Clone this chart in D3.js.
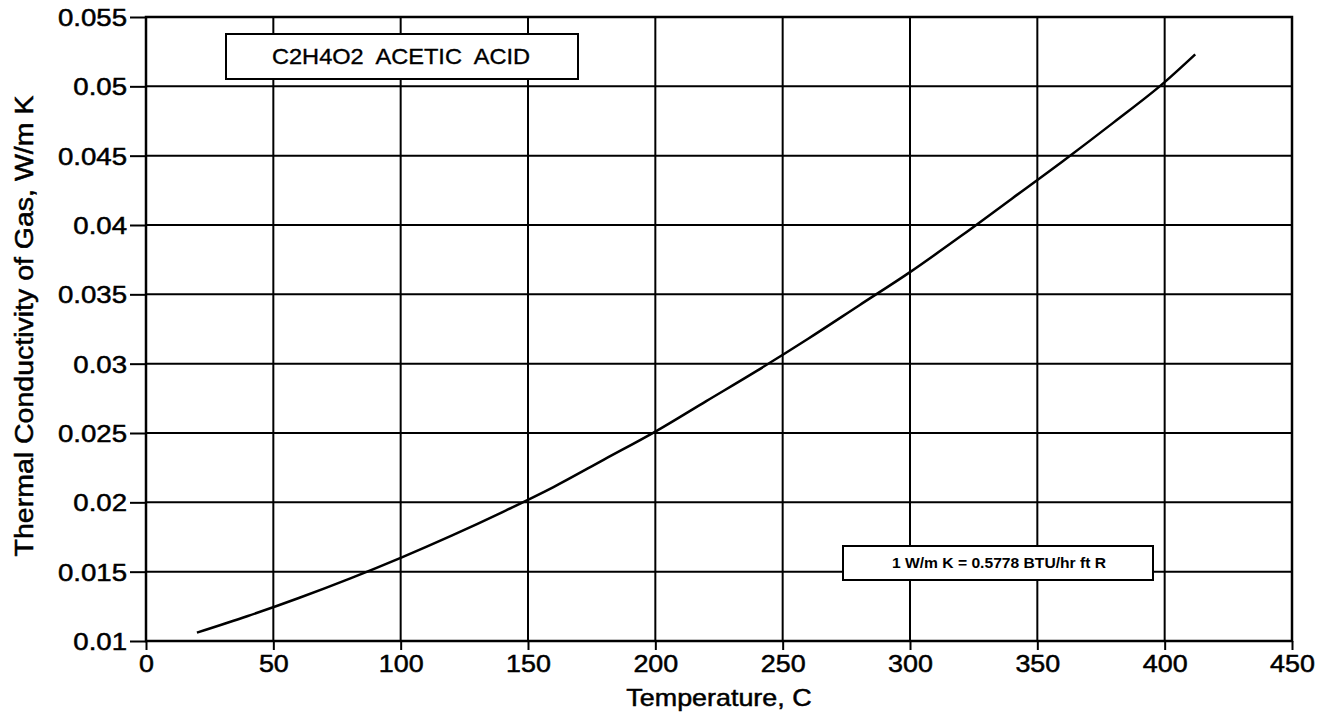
<!DOCTYPE html>
<html>
<head>
<meta charset="utf-8">
<script src="https://cdn.jsdelivr.net/npm/d3@7"></script>
<style>
  html, body { margin: 0; padding: 0; background: #fff; }
  svg { display: block; }
  text { font-family: "Liberation Sans", Arial, Helvetica, sans-serif; fill: #000; }
</style>
</head>
<body>
<svg id="chart" width="1335" height="718"></svg>
<script>
// Data
const temperatureC = [20, 40, 60, 80, 100, 120, 140, 160, 180, 200, 220, 240, 260, 280, 300, 320, 340, 360, 380, 400, 412];
const conductivity = [0.0106, 0.0118, 0.0131, 0.0145, 0.0160, 0.0176, 0.0193, 0.0211, 0.0231, 0.0251, 0.0273, 0.0295, 0.0318, 0.0342, 0.0366, 0.0392, 0.0419, 0.0446, 0.0474, 0.0503, 0.0523];
const xTicks = [0, 50, 100, 150, 200, 250, 300, 350, 400, 450];
const yTicks = [0.01, 0.015, 0.02, 0.025, 0.03, 0.035, 0.04, 0.045, 0.05, 0.055];
const yTickLabels = ["0.01", "0.015", "0.02", "0.025", "0.03", "0.035", "0.04", "0.045", "0.05", "0.055"];
const titleText = "C2H4O2  ACETIC  ACID";
const noteText = "1 W/m K = 0.5778 BTU/hr ft R";
const xLabel = "Temperature, C";
const yLabel = "Thermal Conductivity of Gas, W/m K";

const svg = d3.select("#chart");
const pLeft = 146, pRight = 1292, pTop = 17, pBottom = 641;
const FONT = "Liberation Sans, Arial, Helvetica, sans-serif";

// widen text horizontally (reference lettering is broader than Arial)
function stretch(sel, factor) {
  sel.each(function () {
    const w = this.getComputedTextLength();
    d3.select(this).attr("textLength", w * factor).attr("lengthAdjust", "spacingAndGlyphs");
  });
}

const x = d3.scaleLinear().domain([0, 450]).range([pLeft, pRight]);
const y = d3.scaleLinear().domain([0.01, 0.055]).range([pBottom, pTop]);

// Grid
const grid = svg.append("g");
grid.selectAll("line.v").data(xTicks).join("line")
  .attr("x1", d => x(d)).attr("x2", d => x(d))
  .attr("y1", pTop).attr("y2", pBottom)
  .attr("stroke", "#000").attr("stroke-width", 2);
grid.selectAll("line.h").data(yTicks).join("line")
  .attr("x1", pLeft).attr("x2", pRight)
  .attr("y1", d => y(d)).attr("y2", d => y(d))
  .attr("stroke", "#000").attr("stroke-width", 2);

// Axes
const xAxis = d3.axisBottom(x).tickValues(xTicks).tickSize(9).tickPadding(4).tickFormat(d3.format("d"));
const gx = svg.append("g").attr("transform", `translate(0,${pBottom})`).call(xAxis);
gx.select(".domain").remove();
gx.selectAll(".tick line").attr("stroke", "#000").attr("stroke-width", 2);
gx.selectAll(".tick text").attr("font-size", 24).attr("font-family", FONT)
  .attr("y", 31).attr("dy", 0).attr("stroke", "#000").attr("stroke-width", 0.5)
  .call(stretch, 1.12);

const yAxis = d3.axisLeft(y).tickValues(yTicks).tickSize(16).tickPadding(3).tickFormat((d, i) => yTickLabels[i]);
const gy = svg.append("g").attr("transform", `translate(${pLeft},0)`).call(yAxis);
gy.select(".domain").remove();
gy.selectAll(".tick line").attr("stroke", "#000").attr("stroke-width", 2);
gy.selectAll(".tick text").attr("font-size", 24).attr("font-family", FONT)
  .attr("dy", "0.36em").attr("stroke", "#000").attr("stroke-width", 0.5)
  .call(stretch, 1.15);

// Frame
svg.append("rect").attr("x", pLeft).attr("y", pTop)
  .attr("width", pRight - pLeft).attr("height", pBottom - pTop)
  .attr("fill", "none").attr("stroke", "#000").attr("stroke-width", 2.5);

// Curve
const line = d3.line().x((d, i) => x(temperatureC[i])).y(d => y(d)).curve(d3.curveMonotoneX);
svg.append("path").datum(conductivity)
  .attr("d", line).attr("fill", "none").attr("stroke", "#000").attr("stroke-width", 2.5);

// Title box
svg.append("rect").attr("x", 226).attr("y", 34).attr("width", 352).attr("height", 45)
  .attr("fill", "#fff").attr("stroke", "#000").attr("stroke-width", 2);
svg.append("text").attr("x", 401).attr("y", 64)
  .attr("text-anchor", "middle").attr("font-size", 22).attr("font-family", FONT)
  .attr("textLength", 258).attr("lengthAdjust", "spacingAndGlyphs")
  .style("white-space", "pre").attr("stroke", "#000").attr("stroke-width", 0.35)
  .text(titleText);

// Note box
svg.append("rect").attr("x", 843).attr("y", 546).attr("width", 310).attr("height", 34)
  .attr("fill", "#fff").attr("stroke", "#000").attr("stroke-width", 2);
svg.append("text").attr("x", 999).attr("y", 568)
  .attr("text-anchor", "middle").attr("font-size", 14).attr("font-weight", "bold")
  .attr("font-family", FONT)
  .attr("textLength", 214).attr("lengthAdjust", "spacingAndGlyphs")
  .text(noteText);

// Axis titles
svg.append("text").attr("x", (pLeft + pRight) / 2).attr("y", 706)
  .attr("text-anchor", "middle").attr("font-size", 24).attr("font-family", FONT)
  .attr("stroke", "#000").attr("stroke-width", 0.5).text(xLabel)
  .call(stretch, 1.12);
svg.append("text").attr("transform", `translate(33,326) rotate(-90)`)
  .attr("text-anchor", "middle").attr("font-size", 25).attr("font-family", FONT)
  .attr("stroke", "#000").attr("stroke-width", 0.5).text(yLabel)
  .call(stretch, 1.14);
</script>
</body>
</html>
